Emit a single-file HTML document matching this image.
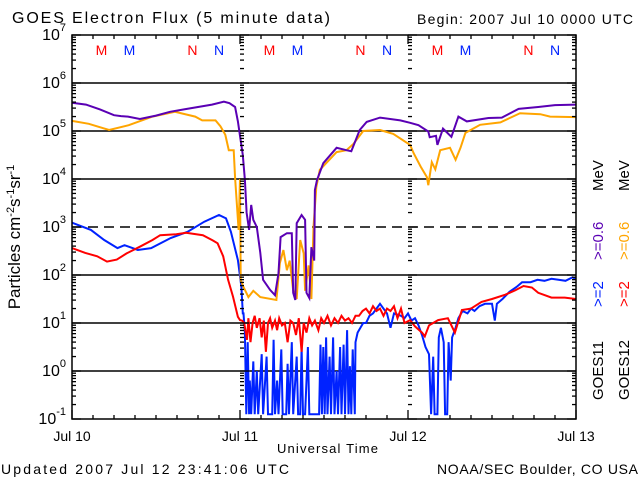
<!DOCTYPE html>
<html><head><meta charset="utf-8"><style>
html,body{margin:0;padding:0;background:#fff;}
svg{display:block;font-family:"Liberation Sans",sans-serif;}
</style></head><body>
<svg id="chart" width="640" height="480" viewBox="0 0 640 480">
<text x="12" y="23" font-size="16" textLength="318" lengthAdjust="spacing">GOES Electron Flux (5 minute data)</text>
<text x="417" y="24" font-size="14" textLength="216" lengthAdjust="spacing">Begin: 2007 Jul 10 0000 UTC</text>
<text x="0" y="0" font-size="17" text-anchor="middle" transform="translate(20,237) rotate(-90)">Particles  cm<tspan font-size="11" dy="-6">-2</tspan><tspan dy="6">s</tspan><tspan font-size="11" dy="-6">-1</tspan><tspan dy="6">sr</tspan><tspan font-size="11" dy="-6">-1</tspan></text>
<text x="277" y="453" font-size="13" textLength="101" lengthAdjust="spacing">Universal Time</text>
<text x="1" y="474" font-size="14" textLength="288" lengthAdjust="spacing">Updated 2007 Jul 12 23:41:06 UTC</text>
<text x="437" y="474" font-size="14" textLength="201" lengthAdjust="spacing">NOAA/SEC Boulder, CO USA</text>
<g font-size="15">
<text transform="translate(603,191) rotate(-90)">MeV</text>
<text transform="translate(603,260) rotate(-90)" fill="#5a00b4">&gt;=0.6</text>
<text transform="translate(603,307) rotate(-90)" fill="#0022ff">&gt;=2</text>
<text transform="translate(603,400) rotate(-90)">GOES11</text>
<text transform="translate(629,191) rotate(-90)">MeV</text>
<text transform="translate(629,260) rotate(-90)" fill="#ffa500">&gt;=0.6</text>
<text transform="translate(629,307) rotate(-90)" fill="#ff0000">&gt;=2</text>
<text transform="translate(629,400) rotate(-90)">GOES12</text>
</g>
<g id="grid"></g><g id="series"></g><g id="axes"></g>
</svg>
<script>
const dayLabels = ["Jul 10","Jul 11","Jul 12","Jul 13"];
const decades = [-1,0,1,2,3,4,5,6,7];
const markerHours = [4.2,8.2,17.2,21.0, 28.2,32.2,41.2,45.0, 52.2,56.2,65.2,69.0];
const markerLabels = ["M","M","N","N","M","M","N","N","M","M","N","N"];
const markerColors = ["#ff0000","#0022ff","#ff0000","#0022ff","#ff0000","#0022ff","#ff0000","#0022ff","#ff0000","#0022ff","#ff0000","#0022ff"];

const purpleH = [0,2,4,6,7,8,9.7,12,14,16,18,20,21.7,22.5,23.3,23.7,24.0,24.4,24.7,24.95,25.3,25.6,25.9,26.4,26.9,27.3,28.3,29,29.5,29.8,30.7,31.4,31.6,31.9,32.1,32.8,33.3,33.5,33.9,34.2,34.6,34.7,35,35.9,37.8,39.2,39.9,41.1,42.1,44,46.9,48.3,49.5,50.9,51.1,52,52.2,53,54.2,55.2,56.4,59.5,61.4,63.8,66.6,69,72];
const purpleV = [5.59,5.55,5.45,5.33,5.31,5.3,5.25,5.32,5.4,5.45,5.5,5.55,5.61,5.58,5.5,5.2,4.9,4.5,3.98,3.3,2.94,3.46,3.15,3.0,2.46,1.9,1.69,1.58,2.04,2.79,2.87,2.87,1.63,1.48,3.08,3.25,3.15,1.63,1.52,2.58,2.3,3.77,3.98,4.33,4.65,4.6,4.58,5.02,5.19,5.28,5.22,5.17,5.12,4.99,4.87,4.9,4.71,5.05,4.88,5.3,5.2,5.27,5.28,5.46,5.5,5.54,5.55];

const orangeH = [0,2.4,5.3,8.1,11.5,14.7,17.6,18.6,20.5,21.2,21.9,22.4,23.1,23.3,23.8,24.0,24.1,24.5,25.2,25.9,26.9,29.2,29.7,30.2,30.7,31.1,31.6,32.1,32.6,33.1,33.3,33.8,34.2,34.5,34.9,35.4,37.8,39.2,40.2,41.6,44,45.9,48.3,48.8,49.8,50.7,50.9,51.4,51.9,52.6,54,54.8,55.5,56.2,58.3,61.2,64,66.9,68.3,72];
const orangeV = [5.21,5.15,5.02,5.12,5.3,5.4,5.3,5.22,5.22,5.1,4.92,4.6,4.6,4.02,2.94,4.0,1.9,1.75,1.54,1.67,1.54,1.48,2.25,2.52,2.1,2.3,1.67,1.5,2.73,2.45,1.67,2.2,1.5,3.0,3.83,4.19,4.56,4.6,4.73,5.0,5.02,4.94,4.71,4.54,4.26,4.04,3.87,4.35,4.2,4.6,4.65,4.4,4.65,4.96,5.13,5.18,5.37,5.35,5.3,5.29];

const blueH = [0,2.7,4.6,6.5,7.5,9.4,11.3,14.1,16.5,18.9,21,22,22.7,23.7,24.2,24.4,24.5,24.7,24.9,25.1,25.3,25.4,25.6,25.9,26.1,26.4,26.6,27.1,27.3,27.8,28.0,28.6,28.8,29.0,29.3,29.5,29.9,30.1,30.6,30.8,31.0,31.4,31.6,32.1,32.3,32.6,32.8,33.0,33.3,33.7,33.9,35.3,35.5,35.7,35.9,36.1,36.3,36.5,36.8,37.0,37.3,37.5,37.8,38.0,38.3,38.5,38.8,39.0,39.3,39.5,39.7,39.9,40.1,40.4,40.5,40.8,41.2,41.6,42,42.5,43,43.5,44,45,45.5,46,47,47.5,48,48.5,49,49.5,50,50.5,51,51.3,51.6,51.8,52.2,52.4,52.7,53.1,53.3,53.6,53.8,54.1,54.3,54.8,55.2,55.8,56.5,57,57.5,58.2,59,60,60.4,60.7,61.5,62.5,63.5,64.3,65.5,66.5,67.5,68.5,69.5,70.5,71.5,72];
const blueV = [3.09,2.94,2.73,2.56,2.62,2.52,2.56,2.77,2.9,3.11,3.25,3.18,2.9,2.31,1.75,1.2,1.2,0.8,-0.9,0.6,-0.9,-0.2,-0.9,0.2,-0.9,0.0,-0.9,0.35,-0.9,0.3,-0.9,-0.9,0.65,-0.9,-0.2,-0.9,0.45,-0.9,-0.9,0.15,-0.9,0.6,-0.9,0.3,-0.9,-0.9,0.5,-0.9,-0.9,0.5,-0.9,-0.9,0.55,-0.9,0.5,-0.9,0.7,-0.9,0.3,-0.9,0.7,-0.9,0.0,-0.9,0.5,-0.9,0.55,-0.9,0.85,-0.9,0.1,-0.9,0.45,-0.9,0.6,0.8,0.9,1.0,1.0,1.15,1.2,1.3,1.4,1.2,0.9,1.2,1.15,1.1,1.2,1.05,1.1,0.95,0.75,0.5,0.35,-0.9,0.3,-0.9,-0.9,0.7,0.9,0.6,-0.9,-0.9,0.6,-0.2,0.7,0.9,1.1,1.25,1.2,1.3,1.25,1.35,1.4,1.4,1.05,1.4,1.5,1.65,1.75,1.85,1.85,1.9,1.88,1.92,1.9,1.88,1.95,1.92];

const redH = [0,1.9,3.6,5,6.4,7.8,9.7,11.5,12.6,14.9,16.3,18.7,20.1,20.8,21.6,22.3,23,23.7,24.0,24.3,24.6,25.0,25.2,25.5,25.8,26.1,26.4,26.8,27.1,27.4,27.7,28,28.3,28.6,29,29.3,29.6,30,30.4,30.8,31.2,31.6,32,32.4,32.8,33.1,33.5,33.9,34.3,34.7,35.2,35.6,36,36.5,37,37.5,38,38.5,39,39.5,40,40.5,41,41.5,42,42.5,43,43.5,44,44.5,45,45.5,46,46.5,47,47.5,48.3,49,50,50.4,51,52.3,53.7,54.7,55.7,57,58.5,60,61.9,63.3,64.5,65.7,66.6,68.5,70.4,72];
const redV = [2.56,2.46,2.39,2.28,2.32,2.45,2.59,2.73,2.83,2.85,2.88,2.83,2.72,2.66,2.39,1.9,1.55,1.13,1.06,1.05,1.0,0.65,1.1,0.6,1.0,1.15,0.9,1.1,0.7,1.05,0.4,1.0,1.1,0.9,1.05,0.85,1.1,0.95,1.0,0.6,1.05,1.0,0.75,1.1,0.4,1.0,0.8,1.1,0.95,1.05,0.85,1.1,1.0,1.15,0.95,1.1,1.0,1.15,1.05,1.1,1.0,1.15,1.15,1.25,1.3,1.2,1.35,1.25,1.3,1.15,1.3,1.25,1.35,1.1,1.3,1.0,1.06,0.93,0.8,0.72,0.95,1.06,1.1,0.8,1.27,1.3,1.44,1.5,1.59,1.68,1.77,1.74,1.63,1.53,1.53,1.5];

const NS="http://www.w3.org/2000/svg";
const X0=72, X1=576, Y7=35, DEC=48;
function xScale(h){return X0+(X1-X0)*h/72;}
function yScale(l){return Y7+(7-Math.max(-1,Math.min(7,l)))*DEC;}
function mk(tag,attrs,parent){const e=document.createElementNS(NS,tag);for(const k in attrs)e.setAttribute(k,attrs[k]);parent.appendChild(e);return e;}
const grid=document.getElementById('grid'), series=document.getElementById('series'), axes=document.getElementById('axes');

decades.forEach(d=>{
  if(d===-1||d===7)return;
  const y=yScale(d);
  const ln=mk('line',{x1:X0,x2:X1,y1:y,y2:y,stroke:'#000','stroke-width':1.5},grid);
  if(d===3)ln.setAttribute('stroke-dasharray','10,6');
  
  
});

function drawSeries(H,V,color,name){
  const pts=H.map((h,i)=>xScale(h).toFixed(1)+','+yScale(V[i]).toFixed(1)).join(' ');
  const p=mk('polyline',{points:pts,fill:'none',stroke:color,'stroke-width':2,'stroke-linejoin':'miter'},series);
  
  
}
drawSeries(blueH,blueV,'#0022ff','series-goes11-2mev');
drawSeries(redH,redV,'#ff0000','series-goes12-2mev');
drawSeries(orangeH,orangeV,'#ffa500','series-goes12-0.6mev');
drawSeries(purpleH,purpleV,'#5a00b4','series-goes11-0.6mev');

const frame=mk('rect',{x:X0,y:Y7,width:X1-X0,height:yScale(-1)-Y7,fill:'none',stroke:'#000','stroke-width':1.5},axes);



const tickXs=[[X0,1],[X1,-1],[xScale(24),1],[xScale(48),1]];
decades.forEach(d=>{
  for(let m=1;m<=9;m++){
    if(d===7&&m>1)break;
    const l=d+Math.log10(m);
    const y=yScale(l);
    tickXs.forEach(([x,dir])=>{
      const len=m===1?9:4;
      mk('line',{x1:x,x2:x+dir*len,y1:y,y2:y,stroke:'#000','stroke-width':1.3},axes);
    });
  }
  const lbl=mk('text',{x:66,y:yScale(d)+5,'font-size':16,'text-anchor':'end'},axes);
  lbl.textContent='10';
  const sup=mk('tspan',{'font-size':11,dy:-9},lbl);
  sup.textContent=String(d);
  
  
});
for(let h=0;h<=72;h+=3){
  const x=xScale(h), yb=yScale(-1), len=(h%24===0)?9:4;
  mk('line',{x1:x,x2:x,y1:yb,y2:yb-len,stroke:'#000','stroke-width':1.3},axes);
  mk('line',{x1:x,x2:x,y1:Y7,y2:Y7+len,stroke:'#000','stroke-width':1.3},axes);
}
dayLabels.forEach((s,i)=>{
  const t=mk('text',{x:xScale(i*24),y:441,'font-size':14,'text-anchor':'middle'},axes);
  t.textContent=s;
  
  
});
markerHours.forEach((h,i)=>{
  const t=mk('text',{x:xScale(h),y:55,'font-size':14,'text-anchor':'middle',fill:markerColors[i]},axes);
  t.textContent=markerLabels[i];
  
  
});
</script>
</body></html>
